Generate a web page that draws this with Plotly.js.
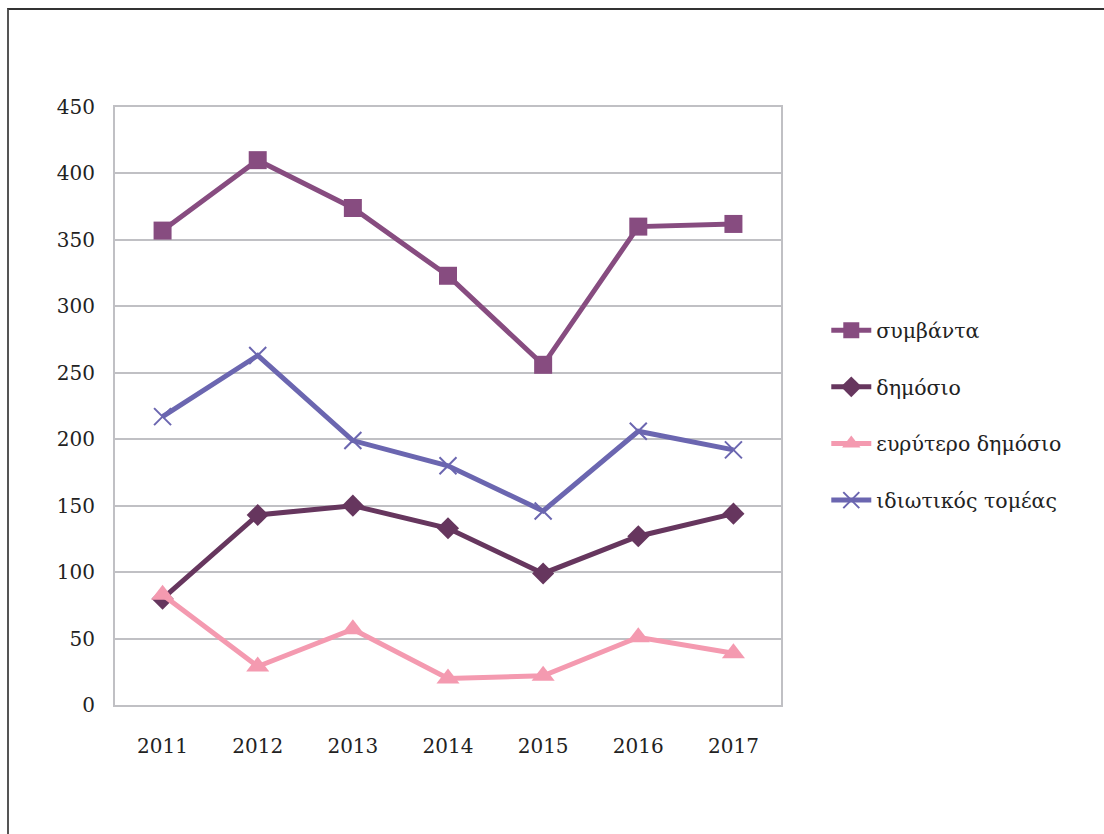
<!DOCTYPE html>
<html>
<head>
<meta charset="utf-8">
<script src="https://cdn.plot.ly/plotly-3.0.1.min.js"></script>
<style>
html, body { margin: 0; padding: 0; background: #fff; overflow: hidden; }
#chart { position: absolute; left: 0; top: 0; width: 1104px; height: 834px; }
#frame { position: absolute; left: 7px; top: 8px; width: 1300px; height: 1000px;
  border-top: 2px solid #333; border-left: 2px solid #555; pointer-events: none; z-index: 5; }
</style>
</head>
<body>
<div id="chart"></div>
<div id="frame"></div>
<script>
const years = ['2011', '2012', '2013', '2014', '2015', '2016', '2017'];
const incidents = [357, 410, 374, 323, 256, 360, 362];      // συμβάντα
const publicSector = [80, 143, 150, 133, 99, 127, 144];     // δημόσιο
const widerPublic = [83, 29, 57, 20, 22, 51, 39];           // ευρύτερο δημόσιο
const privateSector = [217, 263, 199, 180, 146, 206, 192];  // ιδιωτικός τομέας
const seriesNames = ['συμβάντα', 'δημόσιο', 'ευρύτερο δημόσιο', 'ιδιωτικός τομέας'];
const yTicks = [0, 50, 100, 150, 200, 250, 300, 350, 400, 450];

const FONT = 'DejaVu Serif, Cambria, serif';

const traces = [
  { y: incidents, name: seriesNames[0], color: '#874c80', symbol: 'square', size: 18 },
  { y: publicSector, name: seriesNames[1], color: '#66365e', symbol: 'diamond', size: 17 },
  { y: widerPublic, name: seriesNames[2], color: '#f49ab0', symbol: 'triangle-up', size: 20 },
  { y: privateSector, name: seriesNames[3], color: '#6b66b0', symbol: 'x-thin-open', size: 17 }
].map((s, i) => ({
  type: 'scatter',
  mode: 'lines+markers',
  x: years,
  y: s.y,
  name: s.name,
  legendgroup: 'g' + i,
  line: { color: s.color, width: 5 },
  marker: { symbol: s.symbol, size: s.size, color: s.color,
            line: { color: s.color, width: s.symbol === 'x-thin-open' ? 2 : 0 } }
}));

const layout = {
  width: 1104,
  height: 834,
  margin: { l: 115, r: 323, t: 107, b: 129 },
  paper_bgcolor: '#ffffff',
  plot_bgcolor: '#ffffff',
  font: { family: FONT, size: 20, color: '#222' },
  showlegend: true,
  legend: {
    x: 1.068, xanchor: 'left', y: 0.66, yanchor: 'top',
    font: { family: FONT, size: 20.5, color: '#222' },
    tracegroupgap: 27,
    itemwidth: 40,
    bgcolor: 'rgba(0,0,0,0)'
  },
  xaxis: {
    type: 'category',
    range: [-0.5, 6.5],
    showgrid: false,
    showline: true,
    linecolor: '#c0c0c4',
    linewidth: 2,
    mirror: true,
    ticks: 'outside',
    ticklen: 22,
    tickcolor: 'rgba(0,0,0,0)',
    tickfont: { family: FONT, size: 20, color: '#222' },
    zeroline: false,
    fixedrange: true
  },
  yaxis: {
    range: [0, 450],
    tickvals: yTicks,
    ticktext: yTicks.map(String),
    showgrid: true,
    gridcolor: '#c0c0c4',
    gridwidth: 2,
    showline: true,
    linecolor: '#c0c0c4',
    linewidth: 2,
    mirror: true,
    ticks: 'outside',
    ticklen: 14,
    tickcolor: 'rgba(0,0,0,0)',
    tickfont: { family: FONT, size: 20, color: '#222' },
    zeroline: false,
    fixedrange: true
  }
};

Plotly.newPlot('chart', traces, layout, { displayModeBar: false, staticPlot: true });
</script>
</body>
</html>
